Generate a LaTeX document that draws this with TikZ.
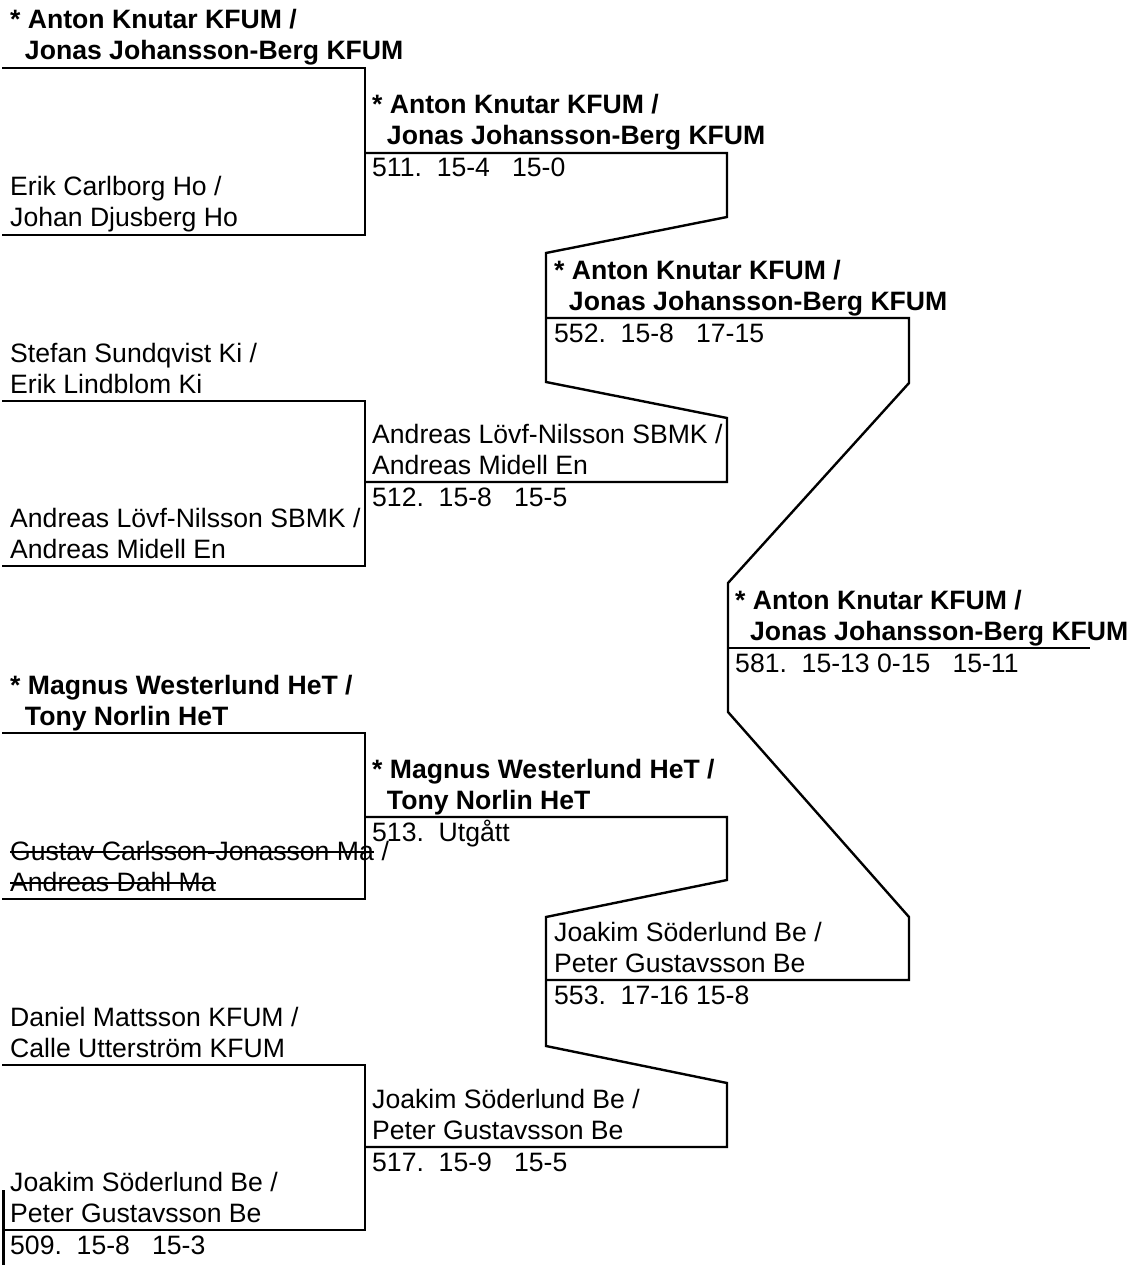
\documentclass[tikz,border=0pt]{standalone}
\usepackage{fontspec}
\setmainfont{Liberation Sans}
\begin{document}
\begin{tikzpicture}[x=1pt,y=-1pt,
  txt/.style={anchor=base west, inner sep=0pt, font=\fontsize{26.6}{32}\selectfont},
  btxt/.style={anchor=base west, inner sep=0pt, font=\fontsize{26.6}{32}\selectfont\bfseries},
  bline/.style={line width=2.4pt, line join=miter, line cap=butt},
  strike/.style={line width=1.8pt}]
\useasboundingbox (0,0) rectangle (1133,1265);
\fill[white] (0,0) rectangle (1133,1265);

% ---------- round 1 coordinates ----------
\coordinate (p1) at (2,68);   \coordinate (p1e) at (365,68);
\coordinate (p2) at (2,235);  \coordinate (p2e) at (365,235);
\coordinate (p3) at (2,401);  \coordinate (p3e) at (365,401);
\coordinate (p4) at (2,566);  \coordinate (p4e) at (365,566);
\coordinate (p5) at (2,733);  \coordinate (p5e) at (365,733);
\coordinate (p6) at (2,899);  \coordinate (p6e) at (365,899);
\coordinate (p7) at (2,1065); \coordinate (p7e) at (365,1065);
\coordinate (p8) at (3.5,1230); \coordinate (p8e) at (365,1230);
\coordinate (b509t) at (3.5,1190); \coordinate (b509b) at (3.5,1266);

\draw[bline] (p1) -- (p1e) -- (p2e) -- (p2);
\draw[bline] (p3) -- (p3e) -- (p4e) -- (p4);
\draw[bline] (p5) -- (p5e) -- (p6e) -- (p6);
\draw[bline] (p7) -- (p7e) -- (p8e) -- (p8);
\draw[bline] (b509t) -- (b509b);

% ---------- round 2 ----------
\coordinate (m511) at (365,153);
\coordinate (m512) at (365,482);
\coordinate (m513) at (365,817);
\coordinate (m517) at (365,1147);
\draw[bline] (m511) -- (727,153) -- (727,217) -- (546,253) -- (546,382) -- (727,418) -- (727,482) -- (m512);
\draw[bline] (m513) -- (727,817) -- (727,880) -- (546,917) -- (546,1046) -- (727,1083) -- (727,1147) -- (m517);

% ---------- round 3 ----------
\coordinate (m552) at (546,318);
\coordinate (m553) at (546,980);
\draw[bline] (m552) -- (909,318) -- (909,383) -- (728,583) -- (728,712) -- (909,917) -- (909,980) -- (m553);

% ---------- round 4 ----------
\coordinate (m581) at (728,648);
\coordinate (m581e) at (1090,648);
\draw[bline] (m581) -- (m581e);

% ---------- round 1 texts ----------
\node[btxt] (t1a) at (10,29) {* Anton Knutar KFUM /};
\node[btxt] (t1b) at (10,60) {\hspace*{0.556em}Jonas Johansson-Berg KFUM};
\node[txt] (t2a) at (10,196) {Erik Carlborg Ho /};
\node[txt] (t2b) at (10,227) {Johan Djusberg Ho};
\node[txt] (t3a) at (10,362) {Stefan Sundqvist Ki /};
\node[txt] (t3b) at (10,393) {Erik Lindblom Ki};
\node[txt] (t4a) at (10,527) {Andreas Lövf-Nilsson SBMK /};
\node[txt] (t4b) at (10,558) {Andreas Midell En};
\node[btxt] (t5a) at (10,694) {* Magnus Westerlund HeT /};
\node[btxt] (t5b) at (10,725) {\hspace*{0.556em}Tony Norlin HeT};
\node[txt] (t6a) at (10,860) {Gustav Carlsson-Jonasson Ma};
\node[txt] (t6s) at (t6a.base east) {\ /};
\node[txt] (t6b) at (10,891) {Andreas Dahl Ma};
\draw[strike] ([yshift=8pt]t6a.base west) -- ([yshift=8pt]t6a.base east);
\draw[strike] ([yshift=8pt]t6b.base west) -- ([yshift=8pt]t6b.base east);
\node[txt] (t7a) at (10,1026) {Daniel Mattsson KFUM /};
\node[txt] (t7b) at (10,1057) {Calle Utterström KFUM};
\node[txt] (t8a) at (10,1191) {Joakim Söderlund Be /};
\node[txt] (t8b) at (10,1222) {Peter Gustavsson Be};
\node[txt] (s509) at (10,1254) {509.\ \ 15-8\ \ \ 15-3};

% ---------- round 2 texts ----------
\node[btxt] (u1a) at (372,114) {* Anton Knutar KFUM /};
\node[btxt] (u1b) at (372,145) {\hspace*{0.556em}Jonas Johansson-Berg KFUM};
\node[txt] (s511) at (372,177) {511.\ \ 15-4\ \ \ 15-0};
\node[txt] (u2a) at (372,443) {Andreas Lövf-Nilsson SBMK /};
\node[txt] (u2b) at (372,474) {Andreas Midell En};
\node[txt] (s512) at (372,506) {512.\ \ 15-8\ \ \ 15-5};
\node[btxt] (u3a) at (372,778) {* Magnus Westerlund HeT /};
\node[btxt] (u3b) at (372,809) {\hspace*{0.556em}Tony Norlin HeT};
\node[txt] (s513) at (372,841) {513.\ \ Utgått};
\node[txt] (u4a) at (372,1108) {Joakim Söderlund Be /};
\node[txt] (u4b) at (372,1139) {Peter Gustavsson Be};
\node[txt] (s517) at (372,1171) {517.\ \ 15-9\ \ \ 15-5};

% ---------- round 3 texts ----------
\node[btxt] (v1a) at (554,279) {* Anton Knutar KFUM /};
\node[btxt] (v1b) at (554,310) {\hspace*{0.556em}Jonas Johansson-Berg KFUM};
\node[txt] (s552) at (554,342) {552.\ \ 15-8\ \ \ 17-15};
\node[txt] (v2a) at (554,941) {Joakim Söderlund Be /};
\node[txt] (v2b) at (554,972) {Peter Gustavsson Be};
\node[txt] (s553) at (554,1004) {553.\ \ 17-16 15-8};

% ---------- round 4 texts ----------
\node[btxt] (w1a) at (735,609) {* Anton Knutar KFUM /};
\node[btxt] (w1b) at (735,640) {\hspace*{0.556em}Jonas Johansson-Berg KFUM};
\node[txt] (s581) at (735,672) {581.\ \ 15-13 0-15\ \ \ 15-11};
\end{tikzpicture}
\end{document}
